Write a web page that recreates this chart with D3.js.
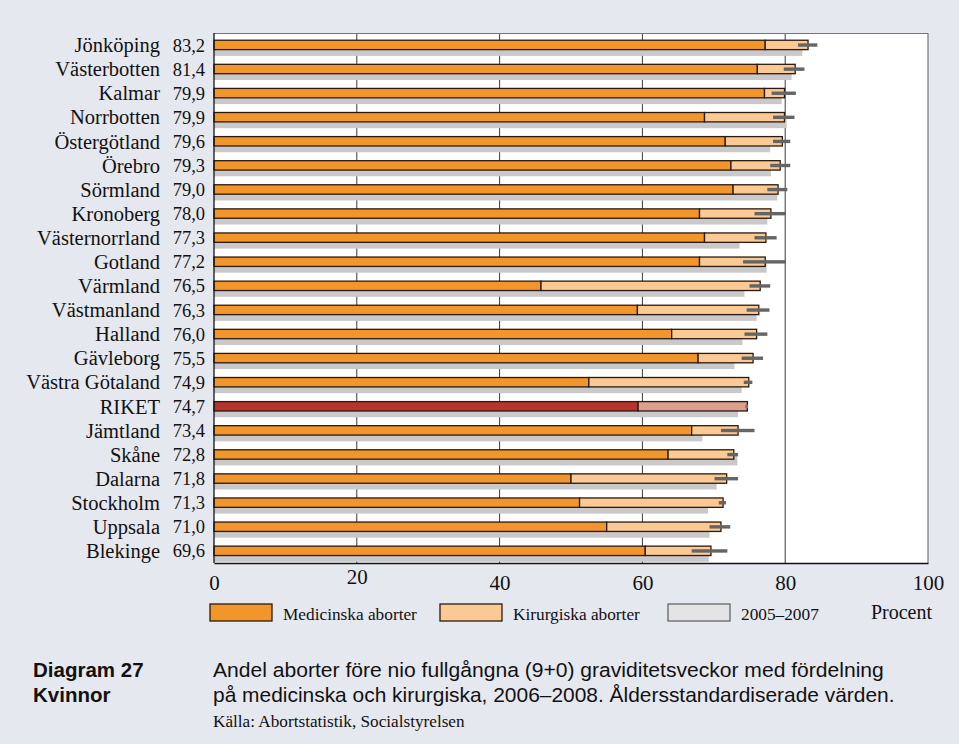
<!DOCTYPE html>
<html><head><meta charset="utf-8">
<script src="https://cdn.jsdelivr.net/npm/d3@7"></script>
<style>
html,body{margin:0;padding:0;background:#e6e8ef;}
svg{display:block;}
</style></head>
<body>
<svg id="c" width="959" height="744"></svg>
<script>
const regions = ["Jönköping","Västerbotten","Kalmar","Norrbotten","Östergötland","Örebro","Sörmland","Kronoberg","Västernorrland","Gotland","Värmland","Västmanland","Halland","Gävleborg","Västra Götaland","RIKET","Jämtland","Skåne","Dalarna","Stockholm","Uppsala","Blekinge"];
const totalLabels = ["83,2","81,4","79,9","79,9","79,6","79,3","79,0","78,0","77,3","77,2","76,5","76,3","76,0","75,5","74,9","74,7","73,4","72,8","71,8","71,3","71,0","69,6"];
const totals = [83.2,81.4,79.9,79.9,79.6,79.3,79.0,78.0,77.3,77.2,76.5,76.3,76.0,75.5,74.9,74.7,73.4,72.8,71.8,71.3,71.0,69.6];
const medical = [77.2,76.1,77.1,68.7,71.6,72.4,72.7,68.0,68.7,68.0,45.8,59.3,64.1,67.8,52.5,59.4,66.9,63.6,50.0,51.2,55.0,60.4];
const previous = [82.4,80.9,79.5,80.2,77.9,78.0,78.9,77.5,73.6,77.4,74.3,76.0,74.0,72.9,73.9,73.4,68.4,73.3,70.4,69.2,69.4,69.3];
const ciLow  = [81.8,79.8,78.1,78.3,78.3,77.9,77.5,75.7,75.7,74.1,75.0,74.6,74.3,73.9,74.2,74.4,71.0,71.9,70.1,70.7,69.4,66.9];
const ciHigh = [84.5,82.7,81.5,81.3,80.7,80.7,80.3,80.1,78.8,80.1,77.9,77.8,77.5,76.9,75.4,74.8,75.7,73.4,73.4,71.7,72.3,71.9];
const xTicks = [0,20,40,60,80,100];
const legendLabels = ["Medicinska aborter","Kirurgiska aborter","2005–2007"];

const svg = d3.select("#c");
const x = d3.scaleLinear().domain([0,100]).range([214,928]);
const y = d3.scaleBand().domain(regions).range([33,563]).padding(0);
const bw = y.bandwidth();

const serif = "'Liberation Serif','Times New Roman',serif";
const sans = "'Liberation Sans',Arial,sans-serif";

// plot background
svg.append("rect").attr("x",x(0)).attr("y",33).attr("width",x(100)-x(0)).attr("height",530).attr("fill","#fff");

// gridlines
svg.append("g").selectAll("line").data([20,40,60,80]).join("line")
  .attr("x1",d=>x(d)).attr("x2",d=>x(d)).attr("y1",33).attr("y2",563)
  .attr("stroke","#3a3a3a").attr("stroke-width",1);
// frame
svg.append("line").attr("x1",x(0)).attr("x2",x(100)).attr("y1",33.5).attr("y2",33.5).attr("stroke","#777").attr("stroke-width",1);
svg.append("line").attr("x1",x(100)).attr("x2",x(100)).attr("y1",33).attr("y2",563).attr("stroke","#777").attr("stroke-width",1.2);

const data = regions.map((r,i)=>({r,i,total:totals[i],med:medical[i],prev:previous[i],lo:ciLow[i],hi:ciHigh[i],lab:totalLabels[i]}));

// previous period gray bars
svg.append("g").selectAll("rect").data(data).join("rect")
  .attr("x",x(0)).attr("y",d=>y(d.r)+bw*0.5).attr("width",d=>x(d.prev)-x(0)).attr("height",bw*0.45)
  .attr("fill","#c9c9cb");

// medical
const g = svg.append("g");
g.selectAll("rect.med").data(data).join("rect").attr("class","med")
  .attr("x",x(0)).attr("y",d=>y(d.r)+bw*0.3).attr("width",d=>x(d.med)-x(0)).attr("height",bw*0.39)
  .attr("fill",d=>d.r==="RIKET"?"#b7342c":"#f2952a").attr("stroke","#2a1a12").attr("stroke-width",1.3);
g.selectAll("rect.sur").data(data).join("rect").attr("class","sur")
  .attr("x",d=>x(d.med)).attr("y",d=>y(d.r)+bw*0.3).attr("width",d=>x(d.total)-x(d.med)).attr("height",bw*0.39)
  .attr("fill",d=>d.r==="RIKET"?"#dba18c":"#fbc993").attr("stroke","#2a1a12").attr("stroke-width",1.3);

// error bars
svg.append("g").selectAll("rect").data(data).join("rect")
  .attr("x",d=>x(d.lo)).attr("width",d=>Math.max(2,x(d.hi)-x(d.lo)))
  .attr("y",d=>y(d.r)+bw*0.5-1.7).attr("height",3.4)
  .attr("fill",d=>d.r==="RIKET"?"#9a6a6a":"#656565");

// left axis line
svg.append("line").attr("x1",x(0)).attr("x2",x(0)).attr("y1",33).attr("y2",563).attr("stroke","#111").attr("stroke-width",1.3);

// category labels
svg.append("g").selectAll("text").data(data).join("text")
  .attr("x",160).attr("y",d=>y(d.r)+bw*0.5).attr("dy","0.35em")
  .attr("text-anchor","end").attr("font-family",serif).attr("font-size",20.5).attr("fill","#111")
  .text(d=>d.r);
svg.append("g").selectAll("text").data(data).join("text")
  .attr("x",205).attr("y",d=>y(d.r)+bw*0.5).attr("dy","0.35em")
  .attr("text-anchor","end").attr("font-family",serif).attr("font-size",18.5).attr("fill","#111")
  .text(d=>d.lab);

// bottom axis
const ax = svg.append("g").attr("transform","translate(0,563)")
  .call(d3.axisBottom(x).tickValues(xTicks).tickSize(0).tickSizeOuter(0).tickPadding(12).tickFormat(d=>d));
ax.select(".domain").attr("stroke","#111").attr("stroke-width",1.5);
ax.selectAll("text").attr("font-family",serif).attr("font-size",21).attr("fill","#111")
  .attr("dy",d=>d===20?"0.45em":"0.71em");

// legend
const legFill = ["#f2952a","#fbc993","#e4e4e4"];
const legX = [210,440,668];
const legG = svg.append("g");
legendLabels.forEach((l,i)=>{
  legG.append("rect").attr("x",legX[i]).attr("y",604).attr("width",62).attr("height",17)
    .attr("fill",legFill[i]).attr("stroke",i===2?"#666":"#2a1a12").attr("stroke-width",1.3);
  legG.append("text").attr("x",legX[i]+73).attr("y",614).attr("dy","0.35em")
    .attr("font-family",serif).attr("font-size",17.3).attr("fill","#111").text(l);
});
svg.append("text").attr("x",932).attr("y",612).attr("dy","0.35em").attr("text-anchor","end")
  .attr("font-family",serif).attr("font-size",20).attr("fill","#111").text("Procent");

// caption
svg.append("text").attr("x",33).attr("y",677).attr("font-family",sans).attr("font-weight","bold").attr("font-size",20.5).attr("fill","#111").text("Diagram 27");
svg.append("text").attr("x",33).attr("y",702).attr("font-family",sans).attr("font-weight","bold").attr("font-size",20.5).attr("fill","#111").text("Kvinnor");
function fitText(t, w){ const n=t.node(); const L=n.getComputedTextLength(); const fs=parseFloat(t.attr("font-size")); t.attr("font-size", fs*w/L); }
const c1 = svg.append("text").attr("x",213).attr("y",677).attr("font-family",sans).attr("font-size",20).attr("fill","#111")
  .text("Andel aborter före nio fullgångna (9+0) graviditetsveckor med fördelning");
fitText(c1, 671);
const c2 = svg.append("text").attr("x",213).attr("y",702).attr("font-family",sans).attr("font-size",20).attr("fill","#111")
  .text("på medicinska och kirurgiska, 2006–2008. Åldersstandardiserade värden.");
fitText(c2, 682);
svg.append("text").attr("x",213).attr("y",727).attr("font-family",serif).attr("font-size",17.2).attr("fill","#111")
  .text("Källa: Abortstatistik, Socialstyrelsen");
</script>
</body></html>
